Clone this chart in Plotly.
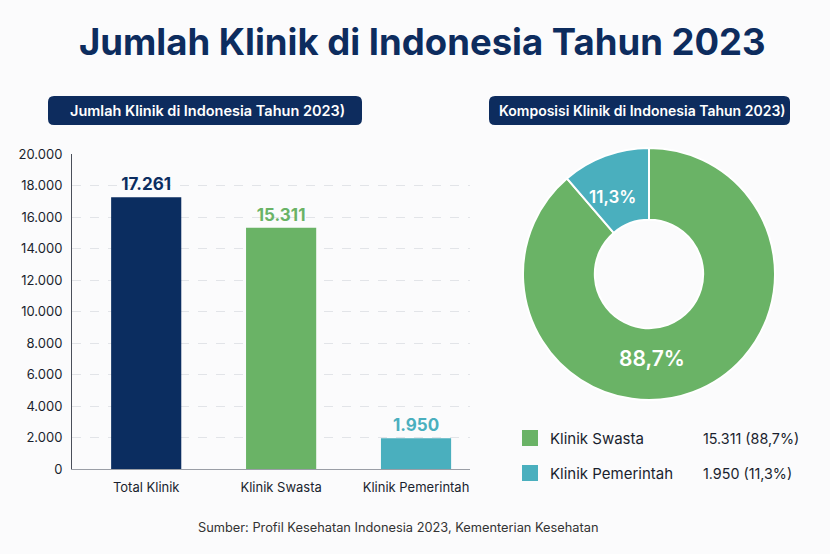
import plotly.graph_objects as go

W, H = 830, 554

categories = ["Total Klinik", "Klinik Swasta", "Klinik Pemerintah"]
values = [17261, 15311, 1950]
bar_colors = ["#0b2d60", "#6ab366", "#4aafbe"]

pie_labels = ["Klinik Swasta", "Klinik Pemerintah"]
pie_values = [15311, 1950]
pie_pct_text = ["88,7%", "11,3%"]
pie_colors = ["#6ab366", "#4aafbe"]

title = "Jumlah Klinik di Indonesia Tahun 2023"
left_sub = "Jumlah Klinik di Indonesia Tahun 2023)"
right_sub = "Komposisi Klinik di Indonesia Tahun 2023)"
source = "Sumber: Profil Kesehatan Indonesia 2023, Kementerian Kesehatan"

NAVY = "#0d2c5e"
FONT = "Inter, Roboto, sans-serif"


def px(x):
    return x / W


def py(y):
    return 1 - y / H


def rounded_rect(x0, y0, x1, y1, r):
    p = f"M {px(x0 + r)},{py(y0)} L {px(x1 - r)},{py(y0)} "
    p += f"Q {px(x1)},{py(y0)} {px(x1)},{py(y0 + r)} "
    p += f"L {px(x1)},{py(y1 - r)} Q {px(x1)},{py(y1)} {px(x1 - r)},{py(y1)} "
    p += f"L {px(x0 + r)},{py(y1)} Q {px(x0)},{py(y1)} {px(x0)},{py(y1 - r)} "
    p += f"L {px(x0)},{py(y0 + r)} Q {px(x0)},{py(y0)} {px(x0 + r)},{py(y0)} Z"
    return p


fig = go.Figure()

fig.add_trace(go.Bar(
    x=categories, y=values,
    marker=dict(color=bar_colors, line=dict(width=0)),
    width=0.52,
    texttemplate="%{y:,d}",
    textposition="outside",
    textfont=dict(family=FONT, size=17, color=bar_colors, weight="bold"),
    cliponaxis=False,
    xaxis="x", yaxis="y",
    showlegend=False,
))

fig.add_trace(go.Pie(
    labels=pie_labels, values=pie_values,
    textinfo="none",
    marker=dict(colors=pie_colors, line=dict(color="white", width=2)),
    hole=0.43,
    sort=False,
    direction="clockwise",
    rotation=0,
    domain=dict(x=[px(523), px(775)], y=[py(400), py(148)]),
    showlegend=False,
))

shapes = [
    dict(type="path", xref="paper", yref="paper", path=rounded_rect(48, 96, 362, 125, 6),
         fillcolor=NAVY, line=dict(width=0), layer="below"),
    dict(type="path", xref="paper", yref="paper", path=rounded_rect(489, 96, 790, 125, 6),
         fillcolor=NAVY, line=dict(width=0), layer="below"),
]

annotations = [
    dict(text=title, x=px(423), y=py(42), xref="paper", yref="paper",
         showarrow=False, font=dict(family=FONT, size=36.5, color=NAVY, weight=700),
         xanchor="center", yanchor="middle"),
    dict(text=left_sub, x=px(207), y=py(111), xref="paper", yref="paper",
         showarrow=False, font=dict(family=FONT, size=14.5, color="white", weight=600),
         xanchor="center", yanchor="middle"),
    dict(text=right_sub, x=px(642), y=py(111), xref="paper", yref="paper",
         showarrow=False, font=dict(family=FONT, size=14, color="white", weight=600),
         xanchor="center", yanchor="middle"),
    dict(text=source, x=px(398), y=py(527), xref="paper", yref="paper",
         showarrow=False, font=dict(family=FONT, size=12.8, color="#333333"), xanchor="center", yanchor="middle"),
    # donut percentage labels
    dict(text=pie_pct_text[0], x=px(652), y=py(358), xref="paper", yref="paper",
         showarrow=False, font=dict(family=FONT, size=21, color="white", weight=600),
         xanchor="center", yanchor="middle"),
    dict(text=pie_pct_text[1], x=px(612), y=py(197), xref="paper", yref="paper",
         showarrow=False, font=dict(family=FONT, size=17, color="white", weight=600),
         xanchor="center", yanchor="middle"),
]

legend_y = [438, 473]
for i, lab in enumerate(pie_labels):
    yc = legend_y[i]
    shapes.append(dict(type="rect", xref="paper", yref="paper",
                       x0=px(522), x1=px(538), y0=py(yc - 8), y1=py(yc + 8),
                       fillcolor=pie_colors[i], line=dict(width=0)))
    annotations.append(dict(text=lab, x=px(548), y=py(yc), xref="paper", yref="paper",
                            showarrow=False, xanchor="left", yanchor="middle",
                            font=dict(family=FONT, size=15, color="#1a1f2e")))
    val = f"{pie_values[i]:,}".replace(",", ".")
    annotations.append(dict(text=f"{val} ({pie_pct_text[i]})", x=px(701), y=py(yc), xref="paper", yref="paper",
                            showarrow=False, xanchor="left", yanchor="middle",
                            font=dict(family=FONT, size=14.3, color="#1a1f2e")))

fig.update_layout(
    width=W, height=H,
    margin=dict(l=0, r=0, t=0, b=0, autoexpand=False),
    paper_bgcolor="#fbfbfc",
    plot_bgcolor="#fbfbfc",
    separators=",.",
    font=dict(family=FONT, color="#222"),
    xaxis=dict(domain=[px(72), px(470)], range=[-0.55, 2.4], showgrid=False, automargin=False,
               showline=True, linecolor="#9a9ea6", linewidth=1,
               tickfont=dict(family=FONT, size=13, color="#1a1f2e"), ticks="", fixedrange=True,
               ticklabelstandoff=6),
    yaxis=dict(domain=[py(469), py(154)], range=[0, 20000], dtick=2000, tickformat=",d",
               showgrid=True, gridcolor="#e2e4e8", griddash="dash", gridwidth=1, automargin=False,
               showline=True, linecolor="#4a4f5a", linewidth=1, zeroline=False,
               tickfont=dict(family=FONT, size=13, color="#1a1f2e"), ticks="",
               ticklabelstandoff=6),
    shapes=shapes,
    annotations=annotations,
)

fig.write_html("out.html")
